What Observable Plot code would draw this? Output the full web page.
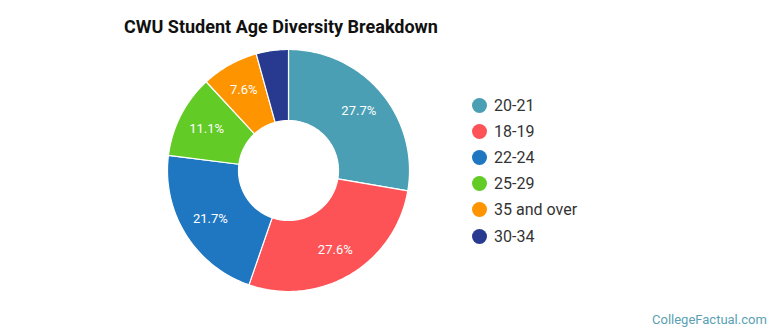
<!DOCTYPE html>
<html>
<head>
<meta charset="utf-8">
<script src="https://cdn.jsdelivr.net/npm/d3@7"></script>
<script src="https://cdn.jsdelivr.net/npm/@observablehq/plot@0.6"></script>
<style>
  html, body { margin: 0; padding: 0; background: #fff; }
  #wrap { position: relative; width: 770px; height: 335px; font-family: Roboto, sans-serif; overflow: hidden; }
  #title { position: absolute; left: 124px; top: 16px; font-size: 18px; font-weight: bold; color: #111; white-space: nowrap; }
  #legend { position: absolute; left: 472px; top: 92px; }
  .row { display: flex; align-items: center; height: 26.2px; font-size: 16px; color: #333; }
  .sw { width: 15px; height: 15px; border-radius: 50%; margin-right: 7px; }
  #footer { position: absolute; left: 652px; top: 312px; font-size: 13px; color: #5a9fb3; white-space: nowrap; }
  #chart { position: absolute; left: 0; top: 0; }
</style>
</head>
<body>
<div id="wrap">
  <div id="chart"></div>
  <div id="title">CWU Student Age Diversity Breakdown</div>
  <div id="legend"></div>
  <div id="footer">CollegeFactual.com</div>
</div>
<script>
const ages = ["20-21", "18-19", "22-24", "25-29", "35 and over", "30-34"];
const shares = [27.7, 27.6, 21.7, 11.1, 7.6, 4.3];
const labels = ["27.7%", "27.6%", "21.7%", "11.1%", "7.6%", ""];
const colors = ["#4a9fb5", "#fe5356", "#1f77c1", "#62cb26", "#fe9400", "#283a8f"];

const data = ages.map((a, i) => ({age: a, share: shares[i], label: labels[i]}));
const arcs = d3.pie().sort(null).value(d => d.share)(data);

const R0 = 50 / 121, R1 = 1, RL = 0.76;
const pts = [];
for (const a of arcs) {
  const n = Math.max(8, Math.ceil((a.endAngle - a.startAngle) * 60));
  const ring = [];
  for (let k = 0; k <= n; k++) {
    const t = a.startAngle + (a.endAngle - a.startAngle) * k / n;
    ring.push([R1 * Math.sin(t), R1 * Math.cos(t)]);
  }
  for (let k = n; k >= 0; k--) {
    const t = a.startAngle + (a.endAngle - a.startAngle) * k / n;
    ring.push([R0 * Math.sin(t), R0 * Math.cos(t)]);
  }
  ring.push(ring[0]);
  for (const [x, y] of ring) pts.push({age: a.data.age, x, y});
}
const labelPts = arcs.map(a => {
  const m = (a.startAngle + a.endAngle) / 2;
  return {x: RL * Math.sin(m), y: RL * Math.cos(m), label: a.data.label};
});

const cx = 288, cy = 170, r = 121;
const plot = Plot.plot({
  width: 770,
  height: 335,
  margin: 0,
  x: {domain: [-1, 1], range: [cx - r, cx + r], axis: null},
  y: {domain: [-1, 1], range: [cy + r, cy - r], axis: null},
  color: {domain: ages, range: colors},
  style: {fontFamily: "Roboto, sans-serif", background: "transparent"},
  marks: [
    Plot.line(pts, {x: "x", y: "y", z: "age", fill: "age", stroke: "white", strokeWidth: 1.2, curve: "linear"}),
    Plot.text(labelPts, {x: "x", y: "y", text: "label", fill: "white", fontSize: 13})
  ]
});
document.getElementById("chart").appendChild(plot);

const leg = document.getElementById("legend");
ages.forEach((a, i) => {
  const row = document.createElement("div");
  row.className = "row";
  const sw = document.createElement("span");
  sw.className = "sw";
  sw.style.background = colors[i];
  const tx = document.createElement("span");
  tx.textContent = a;
  row.appendChild(sw);
  row.appendChild(tx);
  leg.appendChild(row);
});
</script>
</body>
</html>
